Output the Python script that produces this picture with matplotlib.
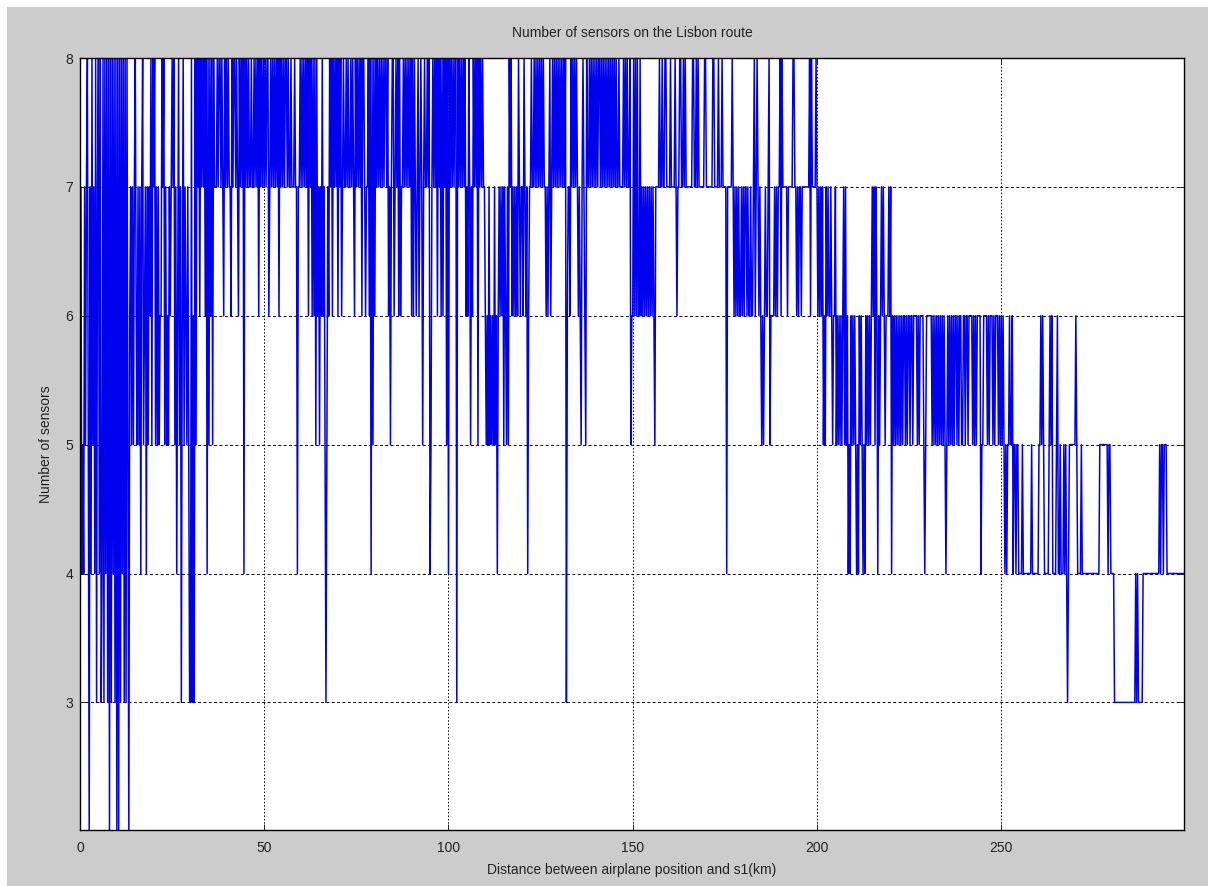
import numpy as np
import matplotlib
matplotlib.use("Agg")
import matplotlib.pyplot as plt
from matplotlib.patches import Rectangle

# Number of sensors seen from the airplane, sampled every 0.25 km along the route.
# Each string holds 100 samples (25 km); digits are grouped per kilometre.
STEP_KM = 0.25

sensors_000_025 = ("7745 4757 8527 4857 4837 8483 4838 4838 2838 4838 "
                   "2828 3848 3838 5267 5757 8657 5747 8567 4757 6858 "
                   "7857 5756 6878 5756 5767")
sensors_025_050 = ("8785 7468 5736 8576 5753 3836 3858 7868 7878 6848 "
                   "5868 5877 7878 8787 6878 7877 6878 8787 6878 7848 "
                   "7878 7787 7878 7868 7878")
sensors_050_075 = ("7878 8678 7878 7878 6878 7878 8787 7877 7877 4778 "
                   "7878 7878 6878 6868 5867 5768 6753 5768 7868 7878 "
                   "6878 6787 7878 7787 8768")
sensors_075_100 = ("7878 7868 8767 7868 4858 6878 7878 7878 8786 7578 "
                   "8678 7868 6778 7878 7878 6868 7678 6787 5787 7878 "
                   "4578 7878 6878 6868 7858")
sensors_100_125 = ("4878 7878 8387 8787 8786 7687 5768 7878 5878 7877 "
                   "6565 7565 6575 6467 6767 5765 7587 8676 7676 8767 "
                   "7687 6746 7787 7878 7878")
sensors_125_150 = ("7878 7767 6786 7878 7878 7878 7878 3677 6878 7878 "
                   "7676 5787 6587 7878 7878 7878 8787 8787 8787 8787 "
                   "8787 7877 7787 8787 7856")
sensors_150_175 = ("6868 6866 8676 7676 7676 7676 5777 7877 8778 8777 "
                   "7877 7787 6778 8778 7877 7777 7887 7878 7777 7788 "
                   "7777 7778 8777 7877 7877")
sensors_175_200 = ("7747 7777 8767 6767 6676 7677 6766 7667 8678 7676 "
                   "5656 7667 8566 6676 7677 8687 7777 6777 7788 7767 "
                   "6776 7777 7777 8687 7778")
sensors_200_225 = ("7676 7675 6576 7667 6566 7565 6565 6757 5645 4656 "
                   "5654 5465 6545 4656 5656 7675 7646 5676 7656 6676 "
                   "7465 6565 6565 6566 5656")
sensors_225_250 = ("6566 5666 6565 6666 5456 6666 6565 6565 6565 6565 "
                   "4565 6565 6566 5656 6556 6566 5666 6565 6566 6645 "
                   "5666 6565 6665 6566 6565")
sensors_250_275 = ("6565 4545 5655 6455 4554 4445 4444 4444 4544 4444 "
                   "4556 5654 4444 5656 4444 5644 5444 5454 3455 5555 "
                   "5654 4445 4444 4444 4444")
sensors_275_300 = ("4444 4445 5555 5555 4554 4443 3333 3333 3333 3333 "
                   "3333 3343 4333 3344 4444 4444 4444 4444 5455 4555 "
                   "4444 4444 4444 4444 4444")

blocks = [sensors_000_025, sensors_025_050, sensors_050_075, sensors_075_100,
          sensors_100_125, sensors_125_150, sensors_150_175, sensors_175_200,
          sensors_200_225, sensors_225_250, sensors_250_275, sensors_275_300]

counts = [int(ch) for block in blocks for ch in block.replace(" ", "")]
distance = np.arange(len(counts)) * STEP_KM

x_ticks = [0, 50, 100, 150, 200, 250]
y_ticks = [3, 4, 5, 6, 7, 8]

FONT = ["Liberation Sans", "DejaVu Sans"]
W, H = 1208, 886

fig = plt.figure(figsize=(W / 100, H / 100), dpi=100, facecolor="#cccccc")
# light frame along the top and left edges of the window
fig.add_artist(Rectangle((0, 1 - 7 / H), 1, 7 / H, transform=fig.transFigure,
                         facecolor="white", edgecolor="none"))
fig.add_artist(Rectangle((0, 0), 7 / W, 1, transform=fig.transFigure,
                         facecolor="white", edgecolor="none"))

left, right, top, bottom = 80, 1184, 58, 830
ax = fig.add_axes([left / W, 1 - bottom / H, (right - left) / W, (bottom - top) / H])
ax.set_facecolor("white")

ax.plot(distance, counts, color="#0000f0", linewidth=1.1, zorder=3)

ax.set_xlim(0, 299.6)
ax.set_ylim(2.01, 8)
ax.set_xticks(x_ticks)
ax.set_yticks(y_ticks)

ax.xaxis.grid(True, color="black", linestyle=(0, (1.5, 2.0)), linewidth=0.7)
ax.yaxis.grid(True, color="black", linestyle=(0, (3.0, 2.5)), linewidth=0.7)
ax.set_axisbelow(True)

for sp in ax.spines.values():
    sp.set_color("black")
    sp.set_linewidth(1.0)
    sp.set_zorder(4)

ax.tick_params(direction="in", length=4, width=0.7, top=True, right=True,
               labelsize=10, colors="#222222")
ax.tick_params(axis="x", pad=8)
ax.tick_params(axis="y", pad=5)
for lab in ax.get_xticklabels() + ax.get_yticklabels():
    lab.set_fontfamily(FONT)

ax.set_xlabel("Distance between airplane position and s1(km)",
              fontsize=10, family=FONT, color="#222222")
ax.xaxis.set_label_coords(0.5, -0.0427)
ax.set_ylabel("Number of sensors", fontsize=10, family=FONT, color="#222222")
ax.yaxis.set_label_coords(-0.0245, 0.5)

ax.text(0.5, 1 + 25 / (bottom - top), "Number of sensors on the Lisbon route",
        transform=ax.transAxes, ha="center", va="center",
        fontsize=10, family=FONT, color="#222222")

fig.savefig("out.png", dpi=100, facecolor=fig.get_facecolor())
